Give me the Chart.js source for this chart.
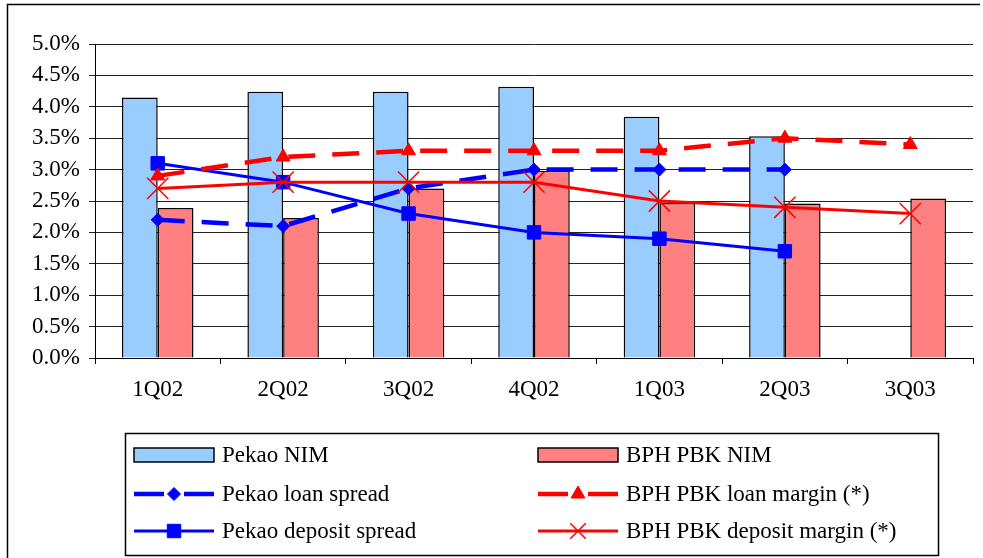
<!DOCTYPE html>
<html>
<head>
<meta charset="utf-8">
<script src="https://cdn.jsdelivr.net/npm/chart.js@4/dist/chart.umd.min.js"></script>
<style>
  html, body { margin: 0; padding: 0; background: #fff; overflow: hidden; }
  #wrap { position: relative; width: 983px; height: 558px; }
  canvas { display: block; }
</style>
</head>
<body>
<div id="wrap"><canvas id="chart" width="983" height="558"></canvas></div>
<script>
const categories = ["1Q02", "2Q02", "3Q02", "4Q02", "1Q03", "2Q03", "3Q03"];
const pekaoNim = [4.15, 4.24, 4.24, 4.32, 3.84, 3.53, null];
const bphNim = [2.39, 2.23, 2.70, 2.98, 2.47, 2.46, 2.54];
const pekaoLoanSpread = [2.2, 2.1, 2.7, 3.0, 3.0, 3.0, null];
const pekaoDepositSpread = [3.1, 2.8, 2.3, 2.0, 1.9, 1.7, null];
const bphLoanMargin = [2.9, 3.2, 3.3, 3.3, 3.3, 3.5, 3.4];
const bphDepositMargin = [2.7, 2.8, 2.8, 2.8, 2.5, 2.4, 2.3];
const yTicks = [0, 0.5, 1, 1.5, 2, 2.5, 3, 3.5, 4, 4.5, 5];

const FONT = "'Liberation Serif', 'Times New Roman', serif";
const BLUE = "#0000ff";
const RED = "#ff0000";

// dataset indices per legend column (index 0 is drawn on top)
const legendColumns = [[4, 3, 2], [5, 1, 0]];

const frameAndLegend = {
  id: "frameAndLegend",
  afterDraw(chart) {
    const ctx = chart.ctx;
    ctx.save();
    // outer frame
    ctx.strokeStyle = "#000";
    ctx.lineWidth = 1.5;
    ctx.beginPath();
    ctx.moveTo(7.5, 600);
    ctx.lineTo(7.5, 4.5);
    ctx.lineTo(980, 4.5);
    ctx.stroke();

    // legend box
    ctx.strokeRect(125.5, 433.5, 813, 122);

    const colX = [134, 538];
    const rowY = [455, 494, 531];
    ctx.font = "23px " + FONT;
    ctx.textBaseline = "middle";
    legendColumns.forEach((col, c) => {
      col.forEach((idx, r) => {
        const ds = chart.data.datasets[idx];
        const x = colX[c];
        const y = rowY[r];
        if (ds.type === "bar") {
          ctx.fillStyle = ds.backgroundColor;
          ctx.fillRect(x, y - 7, 80, 14);
          ctx.lineWidth = 1.5;
          ctx.strokeStyle = "#000";
          ctx.strokeRect(x, y - 7, 80, 14);
        } else {
          ctx.strokeStyle = ds.borderColor;
          ctx.lineWidth = ds.borderWidth;
          ctx.beginPath();
          if (ds.borderDash) {
            ctx.moveTo(x, y); ctx.lineTo(x + 30, y);
            ctx.moveTo(x + 50, y); ctx.lineTo(x + 80, y);
          } else {
            ctx.moveTo(x, y); ctx.lineTo(x + 80, y);
          }
          ctx.stroke();
          ctx.fillStyle = ds.pointBackgroundColor;
          ctx.strokeStyle = ds.pointBorderColor;
          ctx.lineWidth = ds.pointBorderWidth;
          Chart.helpers.drawPoint(ctx, {
            pointStyle: ds.pointStyle,
            radius: ds.pointStyle === "crossRot" ? 11 : ds.pointRadius,
            borderWidth: ds.pointBorderWidth,
            rotation: 0
          }, x + 40, y);
        }
        ctx.fillStyle = "#000";
        ctx.fillText(ds.label, x + 88, y + 1);
      });
    });
    ctx.restore();
  }
};

const lineSet = (label, data, color, dashed, style, radius, bw) => ({
  type: "line",
  label: label,
  data: data,
  borderColor: color,
  borderWidth: dashed ? 4.5 : 3,
  borderDash: dashed ? [27, 17] : undefined,
  pointStyle: style,
  pointRadius: radius,
  pointHoverRadius: radius,
  pointBackgroundColor: color,
  pointBorderColor: color,
  pointBorderWidth: bw,
  fill: false,
  tension: 0,
  spanGaps: false
});

new Chart(document.getElementById("chart"), {
  data: {
    labels: categories,
    datasets: [
      lineSet("BPH PBK deposit margin (*)", bphDepositMargin, RED, false, "crossRot", 15, 1.5),
      lineSet("BPH PBK loan margin (*)", bphLoanMargin, RED, true, "triangle", 8, 1),
      lineSet("Pekao deposit spread", pekaoDepositSpread, BLUE, false, "rect", 9.5, 1),
      lineSet("Pekao loan spread", pekaoLoanSpread, BLUE, true, "rectRot", 6.5, 1),
      {
        type: "bar",
        label: "Pekao NIM",
        data: pekaoNim,
        backgroundColor: "#99ccff",
        borderColor: "#000",
        borderWidth: 1.5,
        categoryPercentage: 0.57,
        barPercentage: 1
      },
      {
        type: "bar",
        label: "BPH PBK NIM",
        data: bphNim,
        backgroundColor: "#ff8080",
        borderColor: "#000",
        borderWidth: 1.5,
        categoryPercentage: 0.57,
        barPercentage: 1
      }
    ]
  },
  options: {
    responsive: false,
    animation: false,
    events: [],
    layout: {
      autoPadding: false,
      padding: { left: 0, top: 44, right: 10, bottom: 150 }
    },
    plugins: {
      legend: { display: false },
      tooltip: { enabled: false }
    },
    scales: {
      x: {
        type: "category",
        offset: true,
        afterFit: (scale) => { scale.height = 50; },
        grid: {
          display: true,
          offset: true,
          drawOnChartArea: false,
          drawTicks: true,
          tickLength: 6,
          color: "#000"
        },
        border: { display: true, color: "#000", width: 1 },
        ticks: {
          color: "#000",
          padding: 12,
          font: { family: FONT, size: 23 }
        }
      },
      y: {
        min: 0,
        max: 5,
        afterFit: (scale) => { scale.width = 95; },
        afterBuildTicks: (scale) => { scale.ticks = yTicks.map(v => ({ value: v })); },
        grid: {
          color: "#222",
          lineWidth: 1,
          tickLength: 6
        },
        border: { display: true, color: "#000", width: 1 },
        ticks: {
          color: "#000",
          padding: 9,
          font: { family: FONT, size: 23 },
          callback: (v) => Number(v).toFixed(1) + "%"
        }
      }
    }
  },
  plugins: [frameAndLegend]
});
</script>
</body>
</html>
